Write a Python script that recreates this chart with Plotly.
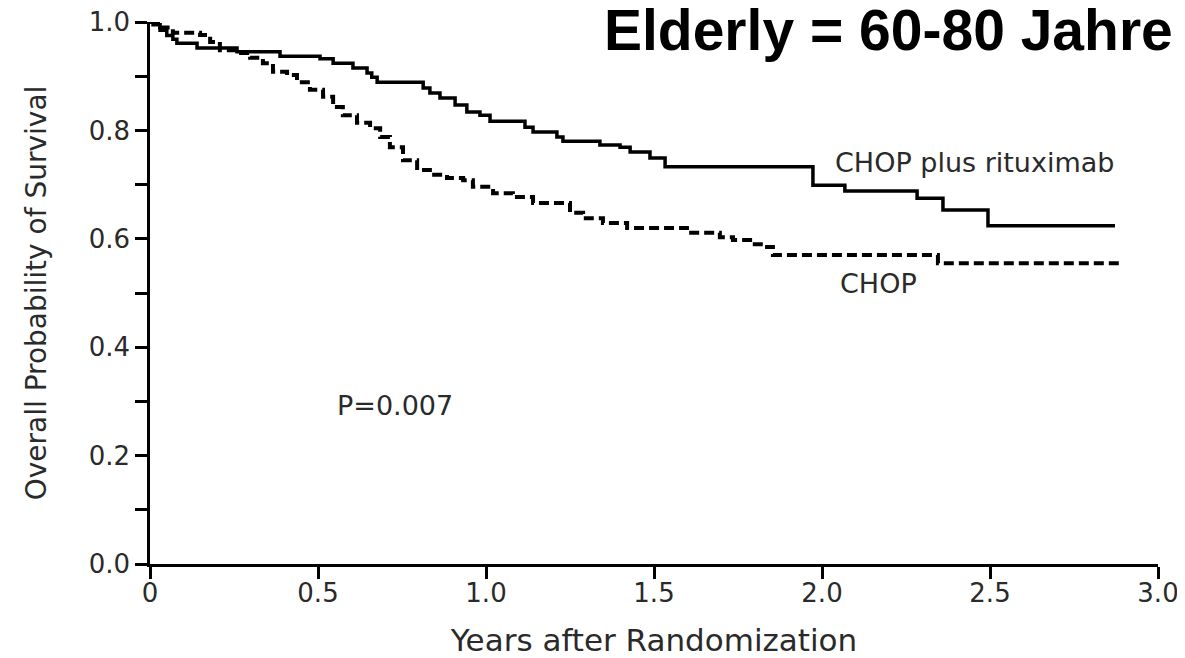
import plotly.graph_objects as go

# Kaplan-Meier step data (years, survival probability)
rchop_years = [0.0, 0.009, 0.03, 0.05, 0.068, 0.08, 0.14, 0.259, 0.387, 0.506, 0.545, 0.604,
               0.646, 0.66, 0.676, 0.813, 0.833, 0.863, 0.908, 0.943, 0.982, 1.012, 1.116,
               1.14, 1.211, 1.229, 1.339, 1.399, 1.429, 1.488, 1.533, 1.973, 2.068, 2.283,
               2.36, 2.494, 2.872]
rchop_surv = [1.0, 0.995, 0.985, 0.975, 0.968, 0.961, 0.952, 0.945, 0.937, 0.932, 0.924, 0.915,
              0.906, 0.898, 0.889, 0.878, 0.869, 0.86, 0.847, 0.834, 0.828, 0.817, 0.806,
              0.797, 0.788, 0.78, 0.773, 0.769, 0.76, 0.749, 0.733, 0.699, 0.688, 0.675,
              0.653, 0.624, 0.624]

chop_years = [0.0, 0.03, 0.068, 0.149, 0.179, 0.208, 0.259, 0.298, 0.336, 0.366, 0.408, 0.4375,
              0.476, 0.515, 0.545, 0.574, 0.616, 0.655, 0.685, 0.714, 0.753, 0.795, 0.833,
              0.884, 0.932, 0.961, 1.021, 1.08, 1.14, 1.25, 1.289, 1.348, 1.42, 1.598, 1.696,
              1.735, 1.786, 1.824, 1.854, 2.345, 2.887]
chop_surv = [1.0, 0.99, 0.98, 0.976, 0.963, 0.948, 0.943, 0.934, 0.924, 0.908, 0.902, 0.889,
             0.875, 0.862, 0.843, 0.828, 0.814, 0.804, 0.788, 0.769, 0.745, 0.727, 0.718,
             0.712, 0.708, 0.696, 0.684, 0.677, 0.666, 0.648, 0.638, 0.629, 0.62, 0.611, 0.603,
             0.598, 0.59, 0.585, 0.57, 0.555, 0.555]

x_tick_vals = [0, 0.5, 1.0, 1.5, 2.0, 2.5, 3.0]
x_tick_text = ["0", "0.5", "1.0", "1.5", "2.0", "2.5", "3.0"]
y_tick_vals = [0.0, 0.1, 0.2, 0.3, 0.4, 0.5, 0.6, 0.7, 0.8, 0.9, 1.0]
y_tick_text = ["0.0", "", "0.2", "", "0.4", "", "0.6", "", "0.8", "", "1.0"]

title_text = "Elderly = 60-80 Jahre"
label_rchop = "CHOP plus rituximab"
label_chop = "CHOP"
p_text = "P=0.007"

fig = go.Figure()
fig.add_trace(go.Scatter(x=chop_years, y=chop_surv, mode="lines", line_shape="hv",
                         line=dict(color="black", width=4, dash="10px,5px"),
                         name=label_chop, showlegend=False, hoverinfo="skip"))
fig.add_trace(go.Scatter(x=rchop_years, y=rchop_surv, mode="lines", line_shape="hv",
                         line=dict(color="black", width=3.5),
                         name=label_rchop, showlegend=False, hoverinfo="skip"))

text_font = dict(family="DejaVu Sans, sans-serif", size=27, color="#2a2a2a")
fig.add_annotation(x=2.455, y=0.74, text=label_rchop, showarrow=False, font=text_font,
                   xanchor="center", yanchor="middle")
fig.add_annotation(x=2.167, y=0.518, text=label_chop, showarrow=False, font=text_font,
                   xanchor="center", yanchor="middle")
fig.add_annotation(x=0.729, y=0.293, text=p_text, showarrow=False, font=text_font,
                   xanchor="center", yanchor="middle")
fig.add_annotation(xref="paper", yref="paper", x=1.017, y=0.985, text=title_text,
                   showarrow=False, xanchor="right", yanchor="middle",
                   font=dict(family="Liberation Sans, Arial, sans-serif", size=57,
                             color="black", weight="bold"))

axis_font = dict(family="DejaVu Sans, sans-serif", size=26, color="#2a2a2a")
fig.update_layout(
    width=1177, height=650,
    margin=dict(l=142, r=27, t=14, b=94),
    paper_bgcolor="white", plot_bgcolor="white",
    xaxis=dict(range=[0, 3], tickvals=x_tick_vals, ticktext=x_tick_text, automargin=False,
               showgrid=False, zeroline=False, showline=True, linecolor="black", linewidth=2.5,
               ticks="outside", ticklen=12, tickwidth=2.5, tickcolor="black",
               tickfont=axis_font, ticklabelstandoff=-8, ticklabeloverflow="allow",
               title=dict(text="Years after Randomization", standoff=24,
                          font=dict(family="DejaVu Sans, sans-serif", size=31, color="#2a2a2a"))),
    yaxis=dict(range=[0, 1.0], tickvals=y_tick_vals, ticktext=y_tick_text, automargin=False,
               showgrid=False, zeroline=False, showline=True, linecolor="black", linewidth=2.5,
               ticks="outside", ticklen=12, tickwidth=2.5, tickcolor="black",
               tickfont=axis_font, ticklabeloverflow="allow",
               title=dict(text="Overall Probability of Survival", standoff=34,
                          font=dict(family="DejaVu Sans, sans-serif", size=28, color="#2a2a2a"))),
)

fig.write_html("out.html")
